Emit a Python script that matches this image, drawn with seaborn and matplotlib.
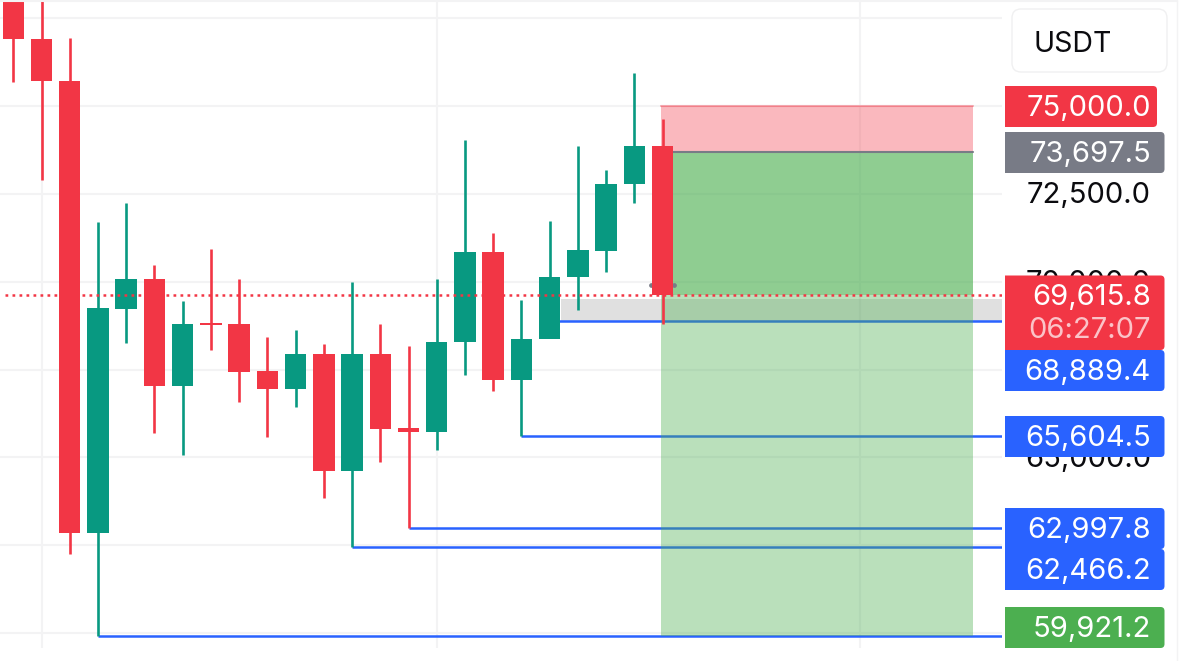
import matplotlib
matplotlib.use('Agg')
import numpy as np
import pandas as pd
import matplotlib.pyplot as plt
from matplotlib.patches import FancyBboxPatch, Rectangle, PathPatch
from matplotlib.path import Path
import seaborn as sns

# candles, one price each
opens = [78016, 76906, 75711, 62860, 69224, 70092, 67034, 68826, 68784, 67461, 66935, 67944,
         64602, 67944, 65839, 65725, 68272, 70846, 67205, 68371, 70121, 70883, 72767, 73848]
highs = [78400, 78100, 76935, 71700, 72240, 70476, 69452, 70932, 70092, 68428, 68627, 68229,
         69979, 68798, 68158, 70078, 74033, 71387, 69480, 71728, 73848, 73179, 75953, 74630]
lows = [75683, 72895, 62254, 59921.2, 68257, 65697, 65085, 68058, 66579, 65583, 66437, 63848,
        62466.2, 64872, 62997.8, 65213, 67347, 66892, 65604.5, 68889.4, 69196, 70277, 72240, 68798]
closes = [76906, 75711, 62860, 69239, 70092, 67034, 68798, 68769, 67432, 66935, 67944, 64602,
          67944, 65811, 65725, 68286, 70846, 67205, 68371, 70135, 70903, 72781, 73848, 69615.8]

grid_prices = [77500, 75000, 72500, 70000, 67500, 65000, 62500, 60000]
axis_labels = ['70,000.0', '72,500.0', '65,000.0']
axis_label_prices = [70000, 72500, 65000]
grid_candles = [1, 15, 30]

entry = 73697.5
stop = 75000.0
last_price = 69615.8
target = 59921.2
gray_zone_top = 69523

# horizontal level lines: price and the candle they start from
level_prices = [68889.4, 65604.5, 62997.8, 62466.2, 59921.2]
level_starts = [19, 18, 14, 12, 3]

tag_texts = ['75,000.0', '73,697.5', '68,889.4', '65,604.5', '62,997.8', '62,466.2', '59,921.2']
tag_colors = ['#f23645', '#787b86', '#2962ff', '#2962ff', '#2962ff', '#2962ff', '#4caf50']
tag_tops = [86, 132, 350, 416, 508, 549, 607]

RED = '#f23645'
GREEN = '#089981'
BLUE = '#2962ff'
INK = '#0b0b0f'
W, H = 1200, 661
PANEL_RIGHT = 1002
BOTTOM = 648
TEXT_RIGHT = 1151

sns.set_theme(style='white')
plt.rcParams['font.family'] = ['Inter', 'DejaVu Sans']

df = pd.DataFrame({'i': range(len(opens)), 'open': opens, 'high': highs, 'low': lows, 'close': closes})
df['lower'] = df[['open', 'close']].min(axis=1)
df['size'] = (df['open'] - df['close']).abs()
df['up'] = df['close'] > df['open']

fig = plt.figure(figsize=(W / 100, H / 100), dpi=100)
ax = fig.add_axes([0, 1 - BOTTOM / H, PANEL_RIGHT / W, BOTTOM / H])


def px_to_price(py):
    return 78015.7 - 28.45 * py


def px_to_candle(px):
    return (px - 13.3) / 28.23


# grid
ax.set_axisbelow(True)
for p in grid_prices:
    ax.axhline(p, color='#f3f3f4', lw=1.5, zorder=0)
for c in grid_candles:
    ax.axvline(c, color='#f3f3f4', lw=1.5, zorder=0)

# level lines, the zones lie over them
for p, s in zip(level_prices, level_starts):
    ax.plot([s, px_to_candle(PANEL_RIGHT)], [p, p], color=BLUE, lw=1.8, zorder=1.5, solid_capstyle='butt')

# position zones
x0 = px_to_candle(661)
x1 = px_to_candle(973)
ax.add_patch(Rectangle((px_to_candle(561), 68889.4), 40, gray_zone_top - 68889.4,
                       color='#808080', alpha=0.24, lw=0, zorder=1))
ax.add_patch(Rectangle((x0, entry), x1 - x0, stop - entry, color=RED, alpha=0.35, lw=0, zorder=2))
ax.add_patch(Rectangle((x0, target), x1 - x0, entry - target, color='#4caf50', alpha=0.385, lw=0, zorder=2))
ax.add_patch(Rectangle((x0, last_price), x1 - x0, entry - last_price, color='#4caf50', alpha=0.385, lw=0, zorder=2))
ax.plot([x0, x1], [stop, stop], color=RED, alpha=0.4, lw=1.5, zorder=3)
ax.plot([x0, x1], [entry, entry], color='#787b86', lw=1.5, zorder=3)

# wicks and bodies
ax.vlines(df['i'], df['low'], df['high'], colors=np.where(df['up'], GREEN, RED), lw=1.9, zorder=4)
for up, color in [(True, GREEN), (False, RED)]:
    part = df[df['up'] == up]
    sns.barplot(data=part, x='i', y='size', bottom=part['lower'].values, native_scale=True,
                width=0.76, color=color, saturation=1, errorbar=None, linewidth=0, ax=ax, zorder=5)

# last price line
ax.plot([px_to_candle(5), px_to_candle(PANEL_RIGHT)], [last_price, last_price], color=RED, lw=1.8,
        dashes=(1.1, 1.7), zorder=6)

# small grey marks beside the last candle
ax.plot([px_to_candle(651), px_to_candle(673.5)], [px_to_price(285), px_to_price(285)],
        ls='none', marker='o', ms=2.4, color='#787b86', zorder=4.5)

ax.set_xlim(px_to_candle(0), px_to_candle(PANEL_RIGHT))
ax.set_ylim(px_to_price(BOTTOM), px_to_price(0))
ax.set_xlabel('')
ax.set_ylabel('')
ax.set_xticks([])
ax.set_yticks([])
sns.despine(ax=ax, left=True, bottom=True)

# price scale drawn in figure pixels
over = fig.add_axes([0, 0, 1, 1], facecolor='none')
over.set_xlim(0, W)
over.set_ylim(H, 0)
over.axis('off')

over.plot([1177, 1177], [0, 661], color='#f3f3f4', lw=1)
over.plot([0, 1177], [0.5, 0.5], color='#f3f3f4', lw=1.5)
over.add_patch(FancyBboxPatch((1012, 9), 155, 63, boxstyle='round,pad=0,rounding_size=9',
                              fc='white', ec='#f0f0f1', lw=1))
over.text(1033.5, 41, 'USDT', fontsize=20.5, color=INK, va='center_baseline', ha='left')

fs = 21
for s, p in zip(axis_labels, axis_label_prices):
    py = (78015.7 - p) / 28.45
    over.text(TEXT_RIGHT, py - 1, s, fontsize=fs, color=INK, ha='right', va='center_baseline', zorder=2)


def tag(top, height, color, right=1164.5):
    # square on the left, rounded on the right
    r = 4
    left = 1005
    bottom = top + height
    verts = [(left, top), (right - r, top), (right, top), (right, top + r), (right, bottom - r),
             (right, bottom), (right - r, bottom), (left, bottom), (left, top)]
    codes = [Path.MOVETO, Path.LINETO, Path.CURVE3, Path.CURVE3, Path.LINETO,
             Path.CURVE3, Path.CURVE3, Path.LINETO, Path.CLOSEPOLY]
    over.add_patch(PathPatch(Path(verts, codes), fc=color, lw=0, zorder=3))


for s, c, top in zip(tag_texts, tag_colors, tag_tops):
    tag(top, 41, c, right=1157 if s == '75,000.0' else 1164.5)
    over.text(TEXT_RIGHT, top + 19.5, s, fontsize=fs, color='white', ha='right', va='center_baseline', zorder=4)

tag(275.5, 74.5, RED)
over.text(TEXT_RIGHT, 294, '69,615.8', fontsize=fs, color='white', ha='right', va='center_baseline', zorder=4)
over.text(TEXT_RIGHT, 327.5, '06:27:07', fontsize=fs, color='#fbc3c8', ha='right', va='center_baseline', zorder=4)

fig.savefig('out.png', dpi=100)
